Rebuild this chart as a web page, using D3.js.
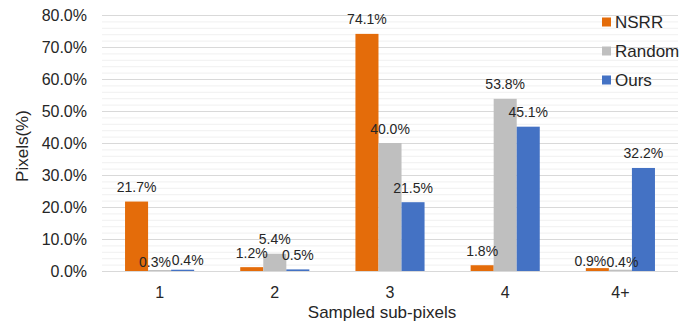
<!DOCTYPE html>
<html>
<head>
<meta charset="utf-8">
<script src="https://cdn.jsdelivr.net/npm/d3@7/dist/d3.min.js"></script>
<style>
  html, body { margin: 0; padding: 0; background: #fff; }
  svg { display: block; }
  text { font-family: "Liberation Sans", Arial, sans-serif; fill: #262626; }
</style>
</head>
<body>
<svg id="chart" width="694" height="326"></svg>
<script>
// Share of pixels by number of sampled sub-pixels
const categories = ["1", "2", "3", "4", "4+"];
const seriesNames = ["NSRR", "Random", "Ours"];
const nsrrValues   = [21.7, 1.2, 74.1, 1.8, 0.9];
const randomValues = [0.3, 5.4, 40.0, 53.8, 0.4];
const oursValues   = [0.4, 0.5, 21.5, 45.1, 32.2];
const yTickValues  = [0, 10, 20, 30, 40, 50, 60, 70, 80];
const yTitle = "Pixels(%)";
const xTitle = "Sampled sub-pixels";

const seriesColors = { NSRR: "#E46C0A", Random: "#BFBFBF", Ours: "#4472C4" };

// small offsets (px) for value labels that would otherwise collide
const labelNudge = {
  "Random|1": [-4.6, 6.5],
  "Ours|1": [5, 5],
  "NSRR|4+": [-7, 7.4],
  "Random|4+": [2, 7]
};

const valuesBySeries = { NSRR: nsrrValues, Random: randomValues, Ours: oursValues };

const svg = d3.select("#chart");
const plot = { left: 102, right: 678, top: 15, bottom: 271 };

const x0 = d3.scaleBand()
  .domain(categories)
  .range([plot.left, plot.right])
  .paddingInner(0.4)
  .paddingOuter(0.2);

const x1 = d3.scaleBand()
  .domain(seriesNames)
  .range([0, x0.bandwidth()]);

const y = d3.scaleLinear()
  .domain([0, 80])
  .range([plot.bottom, plot.top]);

// gridlines: light minor every 2%, darker major every 10%
const minorTicks = d3.range(0, 81, 2).filter(v => v % 10 !== 0);
svg.append("g").selectAll("line")
  .data(minorTicks)
  .join("line")
  .attr("x1", plot.left).attr("x2", plot.right)
  .attr("y1", d => y(d) + 0.5).attr("y2", d => y(d) + 0.5)
  .attr("stroke", "#F0F0F0").attr("stroke-width", 1);

svg.append("g").selectAll("line")
  .data(yTickValues)
  .join("line")
  .attr("x1", plot.left).attr("x2", plot.right)
  .attr("y1", d => y(d) + 0.5).attr("y2", d => y(d) + 0.5)
  .attr("stroke", "#D9D9D9").attr("stroke-width", 1);

// y axis labels
const yAxis = svg.append("g")
  .attr("transform", `translate(${plot.left},0)`)
  .call(d3.axisLeft(y).tickValues(yTickValues)
    .tickFormat(d => d.toFixed(1) + "%").tickSize(0).tickPadding(15));
yAxis.select(".domain").remove();
yAxis.selectAll("text")
  .style("font-family", "'Liberation Sans', Arial, sans-serif")
  .style("font-size", "16px").attr("fill", "#262626");

// x axis labels
const xAxis = svg.append("g")
  .attr("transform", `translate(0,${plot.bottom})`)
  .call(d3.axisBottom(x0).tickSize(0).tickPadding(15.6));
xAxis.select(".domain").remove();
xAxis.selectAll("text")
  .style("font-family", "'Liberation Sans', Arial, sans-serif")
  .style("font-size", "16px").attr("fill", "#262626");

// bars
const rows = [];
categories.forEach((c, i) => {
  seriesNames.forEach(s => rows.push({ category: c, series: s, value: valuesBySeries[s][i] }));
});

svg.append("g").selectAll("rect")
  .data(rows)
  .join("rect")
  .attr("x", d => x0(d.category) + x1(d.series))
  .attr("y", d => y(d.value))
  .attr("width", x1.bandwidth())
  .attr("height", d => y(0) - y(d.value))
  .attr("fill", d => seriesColors[d.series]);

// value labels
svg.append("g").selectAll("text")
  .data(rows)
  .join("text")
  .attr("x", d => x0(d.category) + x1(d.series) + x1.bandwidth() / 2 + (labelNudge[d.series + "|" + d.category] || [0, 0])[0])
  .attr("y", d => y(d.value) - 9.5 + (labelNudge[d.series + "|" + d.category] || [0, 0])[1])
  .attr("text-anchor", "middle")
  .style("font-size", "14px")
  .text(d => d.value.toFixed(1) + "%");

// axis titles
svg.append("text")
  .attr("transform", "translate(28,146) rotate(-90)")
  .attr("text-anchor", "middle")
  .style("font-size", "17px")
  .text(yTitle);

svg.append("text")
  .attr("x", 382).attr("y", 318)
  .attr("text-anchor", "middle")
  .style("font-size", "17px")
  .text(xTitle);

// legend
const legend = svg.append("g").attr("transform", "translate(602,22)");
const items = legend.selectAll("g")
  .data(seriesNames)
  .join("g")
  .attr("transform", (d, i) => `translate(0,${i * 29})`);
items.append("rect")
  .attr("x", 0).attr("y", -4.5)
  .attr("width", 9).attr("height", 9)
  .attr("fill", d => seriesColors[d]);
items.append("text")
  .attr("x", 13).attr("y", 0)
  .attr("dy", "0.35em")
  .style("font-size", "17px")
  .text(d => d);
</script>
</body>
</html>
